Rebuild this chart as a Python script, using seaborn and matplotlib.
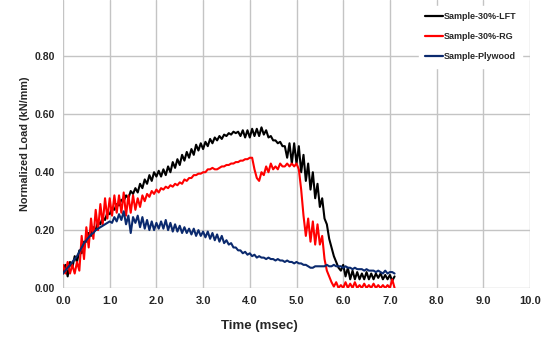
import numpy as np
import pandas as pd
import matplotlib
matplotlib.use("Agg")
import matplotlib.pyplot as plt
import seaborn as sns
from matplotlib.lines import Line2D

# sampling times (ms), 0.05 ms step
time_ms = np.round(np.arange(0, 143) * 0.05, 2)

lft = [0.05, 0.08, 0.04, 0.09, 0.07, 0.11, 0.09, 0.13, 0.12, 0.16, 0.16,
       0.19, 0.18, 0.21, 0.20, 0.23, 0.22, 0.245, 0.235, 0.26, 0.255,
       0.275, 0.27, 0.29, 0.285, 0.305, 0.30, 0.32, 0.31, 0.335, 0.325,
       0.345, 0.33, 0.36, 0.345, 0.375, 0.36, 0.39, 0.37, 0.40, 0.385,
       0.405, 0.385, 0.41, 0.39, 0.42, 0.40, 0.435, 0.415, 0.445, 0.425,
       0.46, 0.44, 0.47, 0.45, 0.48, 0.46, 0.495, 0.475, 0.50, 0.48,
       0.505, 0.49, 0.515, 0.50, 0.52, 0.51, 0.525, 0.515, 0.53, 0.525,
       0.535, 0.53, 0.54, 0.535, 0.54, 0.525, 0.545, 0.52, 0.545, 0.52,
       0.55, 0.525, 0.55, 0.525, 0.555, 0.53, 0.545, 0.52, 0.525, 0.51,
       0.51, 0.50, 0.505, 0.49, 0.49, 0.45, 0.50, 0.43, 0.50, 0.43,
       0.49, 0.40, 0.46, 0.37, 0.43, 0.34, 0.40, 0.31, 0.36, 0.28,
       0.31, 0.24, 0.22, 0.17, 0.14, 0.11, 0.09, 0.07, 0.06, 0.08,
       0.04, 0.07, 0.03, 0.06, 0.03, 0.055, 0.03, 0.05, 0.03, 0.055,
       0.03, 0.05, 0.03, 0.05, 0.035, 0.05, 0.03, 0.045, 0.03, 0.045,
       0.025, 0.04]

rg = [0.08, 0.05, 0.09, 0.05, 0.08, 0.05, 0.09, 0.06, 0.18, 0.10, 0.21,
      0.14, 0.24, 0.17, 0.27, 0.20, 0.29, 0.22, 0.31, 0.24, 0.31,
      0.25, 0.32, 0.26, 0.32, 0.26, 0.33, 0.25, 0.32, 0.26, 0.32,
      0.27, 0.31, 0.28, 0.32, 0.30, 0.325, 0.315, 0.335, 0.325, 0.34,
      0.33, 0.345, 0.34, 0.35, 0.345, 0.355, 0.35, 0.36, 0.355, 0.365,
      0.36, 0.375, 0.37, 0.38, 0.38, 0.39, 0.39, 0.395, 0.395, 0.40,
      0.40, 0.41, 0.41, 0.415, 0.41, 0.41, 0.415, 0.42, 0.42, 0.425,
      0.425, 0.43, 0.43, 0.435, 0.435, 0.44, 0.44, 0.445, 0.445, 0.45,
      0.45, 0.41, 0.38, 0.37, 0.40, 0.39, 0.42, 0.40, 0.43, 0.41,
      0.42, 0.41, 0.43, 0.42, 0.42, 0.43, 0.42, 0.43, 0.42, 0.43,
      0.41, 0.34, 0.25, 0.18, 0.24, 0.16, 0.23, 0.15, 0.22, 0.15,
      0.18, 0.10, 0.06, 0.04, 0.02, 0.005, 0.02, 0.0, 0.01, 0.0,
      0.02, 0.0, 0.015, 0.0, 0.02, 0.0, 0.01, 0.0, 0.015, 0.0,
      0.01, 0.0, 0.015, 0.0, 0.01, 0.0, 0.01, 0.0, 0.01, 0.0,
      0.03, 0.0]

plywood = [0.05, 0.06, 0.07, 0.08, 0.09, 0.10, 0.11, 0.125, 0.14, 0.155, 0.165,
           0.175, 0.185, 0.19, 0.20, 0.205, 0.21, 0.215, 0.22, 0.225, 0.23,
           0.225, 0.245, 0.23, 0.255, 0.235, 0.265, 0.22, 0.25, 0.19, 0.245,
           0.225, 0.25, 0.21, 0.245, 0.205, 0.235, 0.20, 0.23, 0.20, 0.225,
           0.205, 0.23, 0.205, 0.235, 0.20, 0.225, 0.195, 0.22, 0.195, 0.215,
           0.19, 0.21, 0.19, 0.205, 0.185, 0.205, 0.18, 0.20, 0.18, 0.195,
           0.175, 0.195, 0.17, 0.19, 0.165, 0.185, 0.16, 0.18, 0.155, 0.165,
           0.15, 0.155, 0.14, 0.14, 0.13, 0.13, 0.12, 0.125, 0.115, 0.12,
           0.11, 0.115, 0.105, 0.11, 0.105, 0.105, 0.10, 0.105, 0.10, 0.10,
           0.095, 0.10, 0.095, 0.095, 0.09, 0.095, 0.09, 0.09, 0.085, 0.09,
           0.085, 0.085, 0.08, 0.08, 0.075, 0.07, 0.07, 0.075, 0.075, 0.075,
           0.075, 0.075, 0.08, 0.075, 0.075, 0.08, 0.075, 0.075, 0.075, 0.07,
           0.075, 0.07, 0.07, 0.065, 0.07, 0.065, 0.065, 0.065, 0.06, 0.065,
           0.06, 0.06, 0.06, 0.055, 0.06, 0.055, 0.05, 0.06, 0.05, 0.055,
           0.055, 0.05]

series_names = ["Sample-30%-LFT", "Sample-30%-RG", "Sample-Plywood"]
colors = ["#000000", "#ff0000", "#0b2a6e"]
x_ticks = [0, 1, 2, 3, 4, 5, 6, 7, 8, 9, 10]
y_ticks = [0.0, 0.2, 0.4, 0.6, 0.8]

df = pd.concat([
    pd.DataFrame({"Time": time_ms, "Load": vals, "Series": name})
    for name, vals in zip(series_names, [lft, rg, plywood])
], ignore_index=True)

sns.set_style("white")
plt.rcParams["font.family"] = ["Liberation Sans", "DejaVu Sans"]

fig = plt.figure(figsize=(5.5, 3.4), dpi=100)
ax = fig.add_axes([63 / 550, 1 - 288 / 340, 467 / 550, 288 / 340])

sns.lineplot(data=df, x="Time", y="Load", hue="Series", hue_order=series_names,
             palette=colors, ax=ax, linewidth=1.5, legend=False, sort=False,
             estimator=None, zorder=3)

ax.set_xlim(0, 10)
ax.set_ylim(0, 0.995)
ax.set_xticks(x_ticks)
ax.set_xticklabels([f"{v:.1f}" for v in x_ticks], fontsize=8, fontweight="bold")
ax.set_yticks(y_ticks)
ax.set_yticklabels([f"{v:.2f}" for v in y_ticks], fontsize=7.5, fontweight="bold")
ax.tick_params(axis="both", length=0, pad=6)
ax.grid(True, color="#c4c4c4", linewidth=1.0, zorder=0)
ax.set_axisbelow(True)
for s in ax.spines.values():
    s.set_visible(False)

ax.set_xlabel("Time (msec)", fontsize=9.5, fontweight="bold")
ax.xaxis.set_label_coords(0.42, -0.11)
ax.set_ylabel("Normalized Load (kN/mm)", fontsize=7.8, fontweight="bold")
ax.yaxis.set_label_coords(-0.07, 0.5)

handles = [Line2D([0], [0], color=c, lw=1.6) for c in colors]
leg = fig.legend(handles, series_names, loc="upper left",
                 bbox_to_anchor=(414 / 550, 1 - 1 / 340), frameon=True,
                 facecolor="white", edgecolor="white", framealpha=1,
                 prop={"size": 6.5, "weight": "bold"}, handlelength=2.0,
                 handletextpad=0.05, labelspacing=1.25, borderpad=0.7)
leg.set_zorder(5)

fig.savefig("out.png", dpi=100)
